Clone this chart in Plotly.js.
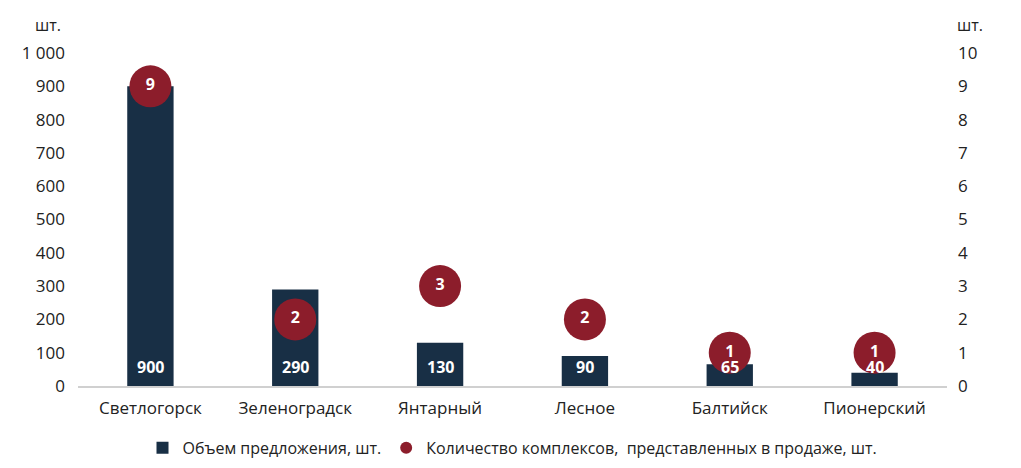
<!DOCTYPE html>
<html><head><meta charset="utf-8">
<script src="https://cdn.plot.ly/plotly-3.0.1.min.js"></script>
<style>body{margin:0;background:#fff}#c{width:1021px;height:468px}</style>
</head><body><div id="c"></div>
<script>
const categories = ["Светлогорск","Зеленоградск","Янтарный","Лесное","Балтийск","Пионерский"];
const supply = [900, 290, 130, 90, 65, 40];
const complexes = [9, 2, 3, 2, 1, 1];
const leftTicks = [0,100,200,300,400,500,600,700,800,900,1000];
const leftTickText = ["0","100","200","300","400","500","600","700","800","900","1 000"];
const rightTicks = [0,1,2,3,4,5,6,7,8,9,10];
const seriesNames = ["Объем предложения, шт.","Количество комплексов,  представленных в продаже, шт."];
const unit = "шт.";

const FONT = "Open Sans, sans-serif";
const NAVY = "#182f45";
const RED = "#8c1d2b";

const traces = [
  {type:"bar", x:categories, y:supply, name:seriesNames[0], marker:{color:NAVY}, width:0.32,
   hoverinfo:"none", yaxis:"y"},
  {type:"scatter", mode:"markers+text", x:categories, y:complexes, name:seriesNames[1], yaxis:"y2",
   marker:{color:RED, size:42}, text:complexes.map(String), textposition:"middle center",
   textfont:{color:"#fff", size:16, family:FONT, weight:700}, hoverinfo:"none"}
];

const annotations = categories.map((c,i)=>({x:c, y:0, xref:"x", yref:"y", yanchor:"bottom", yshift:6,
  text:"<b>"+supply[i]+"</b>", showarrow:false, font:{color:"#fff", size:16, family:FONT}}));
annotations.push({xref:"paper", yref:"paper", x:-0.035, y:1.045, xanchor:"center", yanchor:"bottom",
  text:unit, showarrow:false, font:{size:16, family:FONT, color:"#222"}});
annotations.push({xref:"paper", yref:"paper", x:1.027, y:1.045, xanchor:"center", yanchor:"bottom",
  text:unit, showarrow:false, font:{size:16, family:FONT, color:"#222"}});

const layout = {
  width:1021, height:468,
  margin:{l:78, r:74, t:53, b:82, autoexpand:false},
  paper_bgcolor:"#fff", plot_bgcolor:"#fff",
  font:{family:FONT, size:17, color:"#222"},
  showlegend:true,
  legend:{orientation:"h", x:0.5, xanchor:"center", y:-0.135, yanchor:"top", font:{size:16, family:FONT},
    itemsizing:"constant", itemwidth:30, tracegroupgap:0},
  xaxis:{showline:true, linecolor:"#d0d0d0", linewidth:1.5, ticks:"", showgrid:false, zeroline:false,
    tickfont:{size:17}, ticklabelstandoff:6, fixedrange:true},
  yaxis:{range:[0,1000], tickvals:leftTicks, ticktext:leftTickText, showgrid:false, zeroline:false,
    showline:false, ticks:"", ticklabelstandoff:12, tickfont:{size:17}},
  yaxis2:{range:[0,10], overlaying:"y", side:"right", tickvals:rightTicks, showgrid:false, zeroline:false,
    showline:false, ticks:"", ticklabelstandoff:10, tickfont:{size:17}},
  bargap:0.68,
  annotations:annotations
};
Plotly.newPlot("c", traces, layout, {staticPlot:true});
</script></body></html>
